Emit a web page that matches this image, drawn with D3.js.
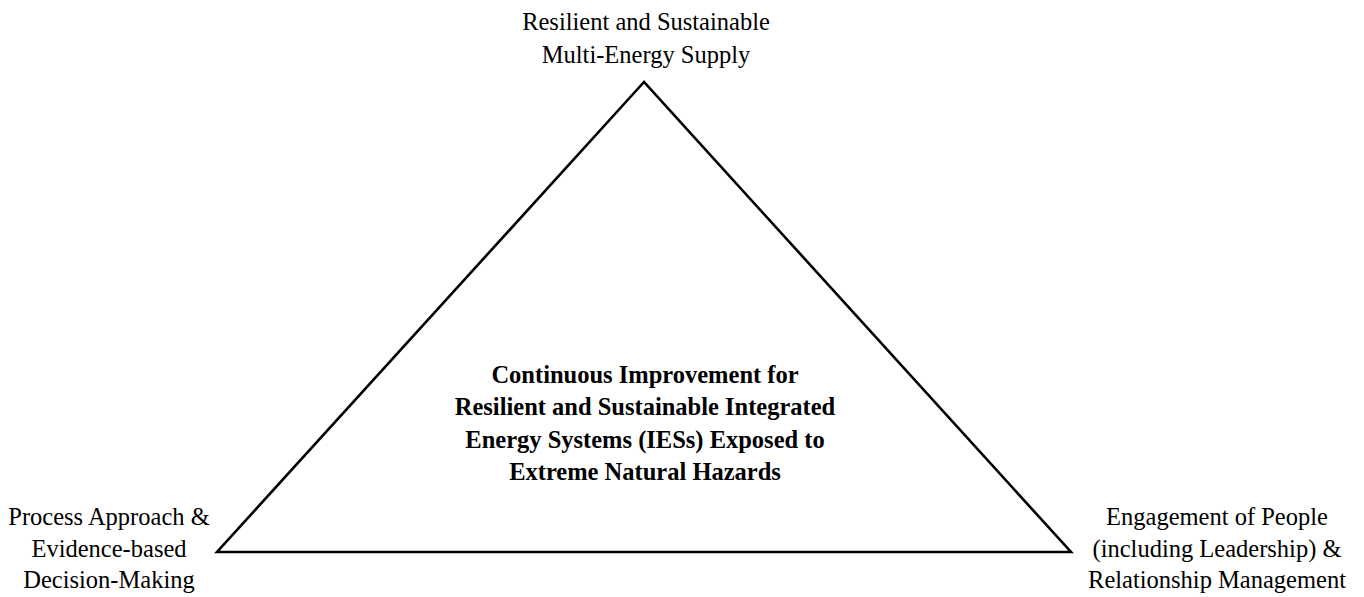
<!DOCTYPE html>
<html>
<head>
<meta charset="utf-8">
<script src="https://cdn.jsdelivr.net/npm/d3@7"></script>
<style>
  html, body { margin: 0; padding: 0; background: #fff; }
  svg { display: block; }
</style>
</head>
<body>
<div id="chart"></div>
<script>
// data
const cornerNames = ['top', 'left', 'right'];
const cornerU = [0.5, 0, 1];   // position along the base (0 = left, 1 = right)
const cornerV = [1, 0, 0];     // height (0 = base, 1 = apex)
const cornerLabels = [
  ['Resilient and Sustainable', 'Multi-Energy Supply'],
  ['Process Approach &', 'Evidence-based', 'Decision-Making'],
  ['Engagement of People', '(including Leadership) &', 'Relationship Management']
];
const centerLabel = [
  'Continuous Improvement for',
  'Resilient and Sustainable Integrated',
  'Energy Systems (IESs) Exposed to',
  'Extreme Natural Hazards'
];

const width = 1364;
const height = 597;
const fontFamily = '"Liberation Serif", "Times New Roman", serif';
const fontSize = 24.5;

const svg = d3.select('#chart').append('svg')
  .attr('width', width)
  .attr('height', height);

const x = d3.scaleLinear().domain([0, 1]).range([217, 1071]);
const y = d3.scaleLinear().domain([0, 1]).range([552, 82]);

const corners = cornerNames.map((n, i) => ({ name: n, u: cornerU[i], v: cornerV[i], lines: cornerLabels[i] }));

// triangle
const line = d3.line().x(d => x(d.u)).y(d => y(d.v)).curve(d3.curveLinearClosed);
svg.append('path')
  .attr('d', line(corners))
  .attr('fill', 'none')
  .attr('stroke', '#000')
  .attr('stroke-width', 2.6)
  .attr('stroke-linejoin', 'miter');

// corner labels
const labelPos = {
  top:   { dx: 2,    y0: 30,  lh: 33 },
  left:  { dx: -108, y0: 525, lh: 31.5 },
  right: { dx: 146,  y0: 525, lh: 31.5 }
};

corners.forEach(c => {
  const p = labelPos[c.name];
  const t = svg.append('text')
    .attr('text-anchor', 'middle')
    .attr('font-family', fontFamily)
    .attr('font-size', fontSize)
    .attr('fill', '#000');
  t.selectAll('tspan')
    .data(c.lines)
    .join('tspan')
    .attr('x', x(c.u) + p.dx)
    .attr('y', (d, i) => p.y0 + i * p.lh)
    .text(d => d);
});

// centre text
const ct = svg.append('text')
  .attr('text-anchor', 'middle')
  .attr('font-family', fontFamily)
  .attr('font-size', fontSize)
  .attr('font-weight', 'bold')
  .attr('fill', '#000');
ct.selectAll('tspan')
  .data(centerLabel)
  .join('tspan')
  .attr('x', x(0.5) + 1)
  .attr('y', (d, i) => 383 + i * 32.3)
  .text(d => d);
</script>
</body>
</html>
